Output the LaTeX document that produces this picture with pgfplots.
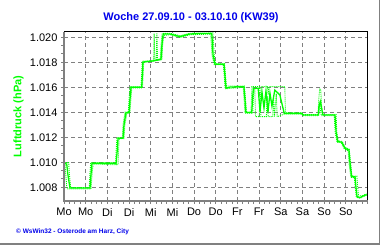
\documentclass[border=0pt]{standalone}
\usepackage{pgfplots}
\pgfplotsset{compat=1.18}
\usepackage{fontspec}
\setmainfont{Liberation Sans}
\definecolor{wsblue}{RGB}{0,0,235}
\definecolor{wsgreen}{RGB}{0,255,0}
\definecolor{wsgray}{RGB}{128,128,128}
\begin{document}
\begin{tikzpicture}
\path[use as bounding box, fill=white] (0,0) rectangle (380pt,245pt);
\begin{axis}[
  at={(64pt,44.3pt)}, anchor=south west,
  width=303.5pt, height=168.7pt, scale only axis,
  xmin=0, xmax=168, ymin=1006.93, ymax=1020.42,
  xtick={0,12,...,168},
  xticklabels={Mo,Mo,Di,Di,Mi,Mi,Do,Do,Fr,Fr,Sa,Sa,So,So,},
  ytick={1008,1010,1012,1014,1016,1018,1020},
  yticklabels={1.008,1.010,1.012,1.014,1.016,1.018,1.020},
  minor x tick num=3, minor y tick num=2,
  tick pos=left, tick align=outside,
  major tick length=3pt, minor tick length=3pt,
  tick style={wsgray, line width=1pt},
  grid=major,
  major grid style={wsgray, line width=1pt, dash pattern=on 4pt off 3pt},
  axis line style={draw=none},
  ticklabel style={font=\fontsize{11}{13}\selectfont},
  xticklabel style={yshift=-1pt},
  clip=false,
]
\addplot[wsgreen, line width=0.9pt, dash pattern=on 1pt off 1pt] coordinates {
(0,1009.98)(2.6,1009.98)(3.0,1009.0)(3.7,1007.98)(14.0,1007.98)(14.3,1009.0)(14.8,1009.98)
(28.6,1009.98)(28.9,1011.0)(29.3,1011.98)(32.3,1011.98)(32.7,1013.0)(33.8,1014.02)(35.6,1014.02)
(36.0,1015.0)(36.5,1016.05)(42.6,1016.05)(43.0,1017.0)(43.3,1018.08)(49.6,1018.15)(49.9,1020.3)
(50.3,1018.15)(51.1,1018.2)(51.4,1020.3)(51.8,1018.2)(53.3,1018.28)(53.8,1019.5)(54.3,1020.3)
(58.7,1020.32)(64.2,1020.12)(69.7,1020.32)(82.4,1020.35)(82.9,1019.2)(83.3,1018.3)(84.0,1017.9)
(88.9,1017.9)(89.4,1016.95)(89.9,1016.1)(99.9,1016.1)(100.5,1015.0)(101.0,1014.02)(103.5,1014.02)
(104.0,1016.05)(108.2,1016.05)(108.7,1015.0)(109.2,1016.05)(112.6,1016.05)(113.0,1015.4)(113.4,1016.05)
(122.2,1016.05)(122.6,1013.95)(131.8,1013.95)(132.4,1013.82)(140.6,1013.82)(141.0,1015.0)(141.5,1015.85)
(142.1,1015.85)(142.6,1014.5)(143.0,1013.82)(150.6,1013.82)(151.0,1012.4)(151.8,1011.7)(153.9,1011.68)
(155.7,1011.2)(157.9,1011.05)(158.6,1010.0)(159.4,1008.9)(162.1,1008.9)(162.6,1008.0)(163.0,1007.3)
(165.5,1007.35)(167.5,1007.47)
};
\addplot[wsgreen, line width=0.9pt, dash pattern=on 1pt off 1pt] coordinates {
(0,1009.85)(0.5,1009.85)(1.0,1009.0)(1.6,1007.88)(15.0,1007.88)(15.5,1009.0)(16.1,1009.86)
(29.9,1009.8)(30.2,1010.9)(30.5,1011.88)(33.2,1011.88)(33.7,1013.0)(34.8,1013.93)(36.5,1013.93)
(37.0,1015.0)(37.5,1015.95)(43.4,1015.95)(43.8,1017.0)(44.1,1018.0)(54.2,1018.2)(54.6,1019.4)
(55.2,1020.15)(58.7,1020.2)(64.2,1019.98)(69.7,1020.2)(81.2,1020.25)(81.6,1019.3)(82.0,1018.5)
(83.2,1017.8)(88.2,1017.8)(88.7,1016.9)(89.2,1015.88)(99.2,1016.0)(99.7,1015.0)(100.2,1013.92)
(104.5,1013.92)(105.0,1015.88)(105.6,1015.88)(106.0,1013.65)(108.0,1013.65)(108.5,1015.0)(109.0,1013.65)
(112.0,1013.65)(112.5,1015.3)(113.0,1013.65)(115.5,1013.65)(116.0,1015.2)(116.5,1013.65)(117.5,1015.5)
(118.0,1013.65)(121.9,1013.85)(131.6,1013.85)(132.3,1013.72)(140.9,1013.72)(141.6,1014.6)(142.4,1013.72)
(149.6,1013.72)(150.1,1012.4)(151.1,1011.6)(153.4,1011.58)(155.2,1011.05)(157.3,1010.92)(157.8,1009.9)
(158.8,1008.8)(160.7,1008.8)(161.2,1008.0)(161.8,1007.2)(163.9,1007.12)(165.5,1007.25)(167.5,1007.38)
};
\addplot[wsgreen, line width=1.3pt] coordinates {
(0,1009.92)(1.5,1009.86)(2.2,1008.98)(3.3,1007.94)(14.4,1007.94)(14.9,1008.98)(15.5,1009.92)
(28.2,1009.92)(28.8,1009.86)(29.5,1010.98)(29.9,1011.92)(32.7,1011.92)(33.2,1012.98)(34.3,1013.97)
(36.0,1013.97)(36.5,1014.98)(37.1,1016.0)(43.0,1016.0)(43.4,1016.98)(43.7,1018.02)(49.3,1018.1)
(53.7,1018.24)(54.2,1019.38)(54.8,1020.18)(55.4,1020.26)(58.7,1020.26)(64.2,1020.05)(69.7,1020.26)
(75.2,1020.3)(81.8,1020.3)(82.2,1019.38)(82.5,1018.58)(83.6,1017.84)(88.6,1017.84)(89.1,1016.9)
(89.7,1015.92)(91.9,1016.02)(99.6,1016.05)(100.2,1014.98)(100.7,1013.98)(103.9,1013.98)(104.8,1015.92)
(107.5,1015.92)(108.5,1014.02)(109.6,1015.62)(110.7,1014.34)(111.8,1015.7)(112.9,1014.02)(114.0,1015.54)
(115.1,1014.5)(116.7,1015.78)(119.5,1015.38)(121.9,1013.92)(131.6,1013.92)(132.3,1013.78)(140.8,1013.78)
(141.1,1014.45)(141.9,1014.85)(142.8,1014.18)(143.4,1013.78)(150.0,1013.78)(150.6,1012.45)(151.5,1011.65)
(153.7,1011.62)(155.5,1011.12)(157.7,1010.98)(158.3,1009.94)(159.2,1008.85)(161.1,1008.85)(161.6,1008.02)
(162.2,1007.25)(163.9,1007.18)(165.5,1007.3)(167.5,1007.42)
};
\draw[black, line width=1pt] (rel axis cs:0,1) -- (rel axis cs:1,1) -- (rel axis cs:1,0);
\draw[wsgray, line width=2pt] (rel axis cs:0,1) -- (rel axis cs:0,0) -- (rel axis cs:1,0);
\end{axis}
\node[text=wsblue, font=\bfseries\fontsize{11}{13}\selectfont] at (191pt,227.5pt) {Woche 27.09.10 - 03.10.10 (KW39)};
\node[rotate=90, text=wsgreen, font=\bfseries\fontsize{11}{13}\selectfont] at (18.5pt,128.6pt) {Luftdruck (hPa)};
\node[anchor=west, inner sep=0pt, text=wsblue, font=\bfseries\fontsize{6.5}{8}\selectfont] at (16pt,13.5pt) {© WsWin32 - Osterode am Harz, City};
\draw[wsgray, line width=1.5pt] (0,0.75pt) -- (379.25pt,0.75pt) -- (379.25pt,245pt);
\end{tikzpicture}
\end{document}
